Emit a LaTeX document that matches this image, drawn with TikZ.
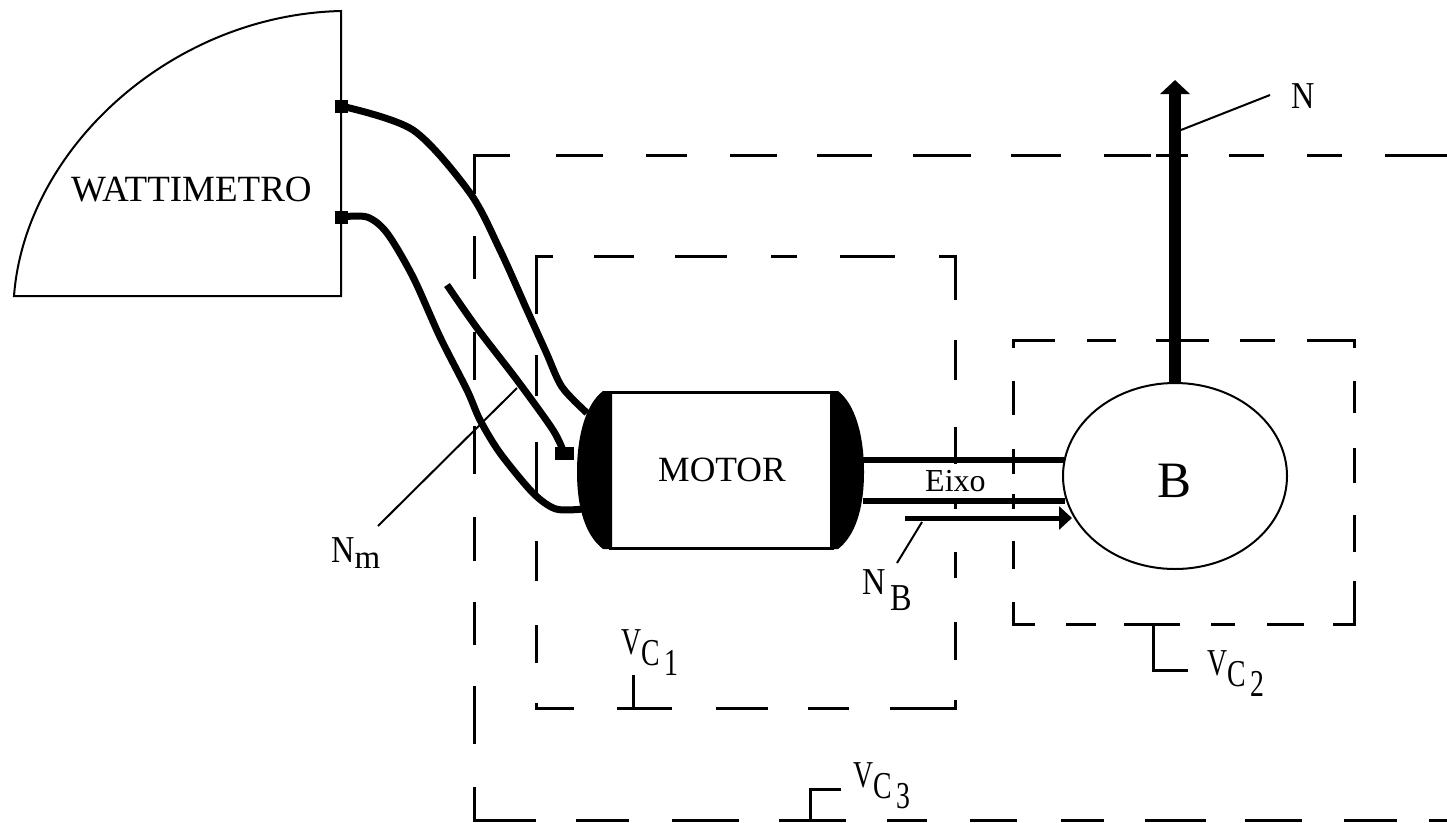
\documentclass[tikz,border=0pt]{standalone}
\usepackage{fontspec}
\setmainfont{Liberation Serif}
\usetikzlibrary{arrows.meta,shapes.geometric}

\newcommand{\fs}[1]{\fontsize{#1pt}{#1pt}\selectfont}
% narrow volume labels: V, then C and the number stepping down
\newcommand{\vclabel}[1]{\scalebox{.73}[1]{V\raisebox{-11pt}{C\raisebox{-10pt}{\,#1}}}}

\begin{document}
\begin{tikzpicture}[x=1pt,y=-1pt,>=stealth,
    thinline/.style={line width=2pt},
    leader/.style={line width=2pt},
    wire/.style={line width=7pt,line join=round},
    dashline/.style={line width=3pt,line cap=rect},
    terminal/.style={rectangle,fill=black,inner sep=0pt,minimum size=13pt},
    txt/.style={inner sep=0pt,anchor=base west,font=\fs{38}}]
  \useasboundingbox (0,0) rectangle (1447,822);

  % volume C3
  \foreach \a/\b in {474/508,557/601,647/685,731/775,818/870,914/969,1012/1059,1105/1149,1157/1186,1230/1262,1308/1340,1386/1447}
    \draw[dashline] (\a,155) -- (\b,155);
  \foreach \a/\b in {155/192,237/277,333/378,427/472,518/559,603/643,687/742,788/820}
    \draw[dashline] (474,\a) -- (474,\b);
  \foreach \a/\b in {474/534,577/627,673/737,780/844,888/925,971/1015,1062/1102,1146/1204,1246/1300,1345/1395,1430/1447}
    \draw[dashline] (\a,820) -- (\b,820);

  % volume C1
  \foreach \a/\b in {536/551,595/632,676/725,772/795,841/893,940/955}
    \draw[dashline] (\a,256) -- (\b,256);
  \foreach \a/\b in {536/572,618/670,717/766,809/847,891/955}
    \draw[dashline] (\a,708) -- (\b,708);
  \foreach \a/\b in {256/312,356/394,443/493,542/579,626/661,704/708}
    \draw[dashline] (536,\a) -- (536,\b);
  \foreach \a/\b in {256/298,341/378,428/462,500/507,553/576,623/658,701/708}
    \draw[dashline] (955,\a) -- (955,\b);

  % volume C2
  \foreach \a/\b in {1013/1053,1088/1114,1157/1207,1241/1273,1308/1354}
    \draw[dashline] (\a,340) -- (\b,340);
  \foreach \a/\b in {1013/1033,1067/1094,1125/1178,1212/1233,1268/1302,1334/1354}
    \draw[dashline] (\a,624) -- (\b,624);
  \foreach \a/\b in {340/346,382/413,450/472,495/507,542/567,603/624}
    \draw[dashline] (1013,\a) -- (1013,\b);
  \foreach \a/\b in {340/346,382/411,449/481,516/550,582/624}
    \draw[dashline] (1354,\a) -- (1354,\b);

  % wattimetro
  \draw[thinline] (14,296) .. controls (25,150) and (170,15) .. (341,11) -- (341,296) -- cycle;
  \node[txt,font=\fs{37}] (watt) at (71,201) {WATTIMETRO};
  \node[terminal] (t1) at (341,106) {};
  \node[terminal] (t2) at (341,217) {};

  % motor
  \node[rectangle,draw,line width=3pt,fill=white,minimum width=222pt,minimum height=156pt,inner sep=0pt] (motor) at (721,470) {};
  \node[txt,font=\fs{35.5}] (motortxt) at (658,481) {MOTOR};
  \fill (612,391) -- (603,391) .. controls (586,404) and (577,435) .. (577,472)
    .. controls (577,509) and (586,536) .. (603,549) -- (612,549) -- cycle;
  \fill (830,391) -- (838,391) .. controls (855,404) and (864,435) .. (864,472)
    .. controls (864,509) and (855,536) .. (838,549) -- (830,549) -- cycle;

  % bomba
  \node[ellipse,draw,thinline,minimum width=224pt,minimum height=186pt,inner sep=0pt] (bomba) at (1175,476) {};
  \node[txt,font=\fs{51}] (bombatxt) at (1157,497) {B};

  % wires
  \coordinate (w1) at (587,413);
  \coordinate (w2) at (583,509);
  \coordinate (w3) at (447,285);
  \node[terminal,minimum width=19pt,minimum height=13pt] (t3) at (564,453) {};
  \draw[wire] plot[smooth,tension=.5] coordinates {(t1) (413,130) (470,193) (500,250) (527,310) (546,352) (562,387) (w1)};
  \draw[wire] plot[smooth,tension=.5] coordinates {(t2) (367,217) (387,233) (413,277) (440,337) (467,390) (480,420) (500,453) (533,493) (556,509) (w2)};
  \draw[wire] plot[smooth,tension=.5] coordinates {(w3) (477,328) (517,380) (553,430) (t3)};

  % eixo
  \coordinate (e1) at (863,460);
  \coordinate (e2) at (1065,460);
  \coordinate (e3) at (863,501);
  \coordinate (e4) at (1065,501);
  \draw[line width=6pt] (e1) -- (e2);
  \draw[line width=6pt] (e3) -- (e4);
  \node[txt,font=\fs{32}] (eixo) at (925,491) {Eixo};

  % N arrow
  \coordinate (ntip) at (1175,80);
  \coordinate (nbase) at (1175,383);
  \draw[line width=12pt,-{Triangle[length=14pt,width=29pt]}] (nbase) -- (ntip);
  \node[txt,xscale=.85] (nlab) at (1291,108) {N};
  \coordinate (nl) at (1270,95);
  \coordinate (nr) at (1181,130);
  \draw[leader] (nl) -- (nr);

  % NB arrow
  \coordinate (nb1) at (905,518);
  \coordinate (nb2) at (1072,518);
  \draw[line width=5pt,-{Triangle[length=13pt,width=23pt]}] (nb1) -- (nb2);
  \node[txt] (nblab) at (862,594) {\scalebox{.85}[1]{N\raisebox{-16pt}{\,B}}};
  \coordinate (nbl) at (897,563);
  \coordinate (nbr) at (922,522);
  \draw[leader] (nbl) -- (nbr);

  % Nm label
  \node[txt] (nmlab) at (331,562) {\scalebox{.85}[1]{N}\raisebox{-6pt}{\fs{33}m}};
  \coordinate (nma) at (378,526);
  \coordinate (nmb) at (517,388);
  \draw[leader] (nma) -- (nmb);

  % volume labels
  \node[txt] (vc1lab) at (621,654) {\vclabel{1}};
  \coordinate (vc1tip) at (633,675);
  \draw[dashline,line cap=butt] (vc1tip) -- (633,708);
  \node[txt] (vc2lab) at (1207,675) {\vclabel{2}};
  \coordinate (vc2tip) at (1188,670);
  \draw[dashline,line cap=butt] (vc2tip) -| (1153,624);
  \node[txt] (vc3lab) at (853,787) {\vclabel{3}};
  \coordinate (vc3tip) at (841,789);
  \draw[dashline,line cap=butt] (vc3tip) -| (810,820);
\end{tikzpicture}
\end{document}
